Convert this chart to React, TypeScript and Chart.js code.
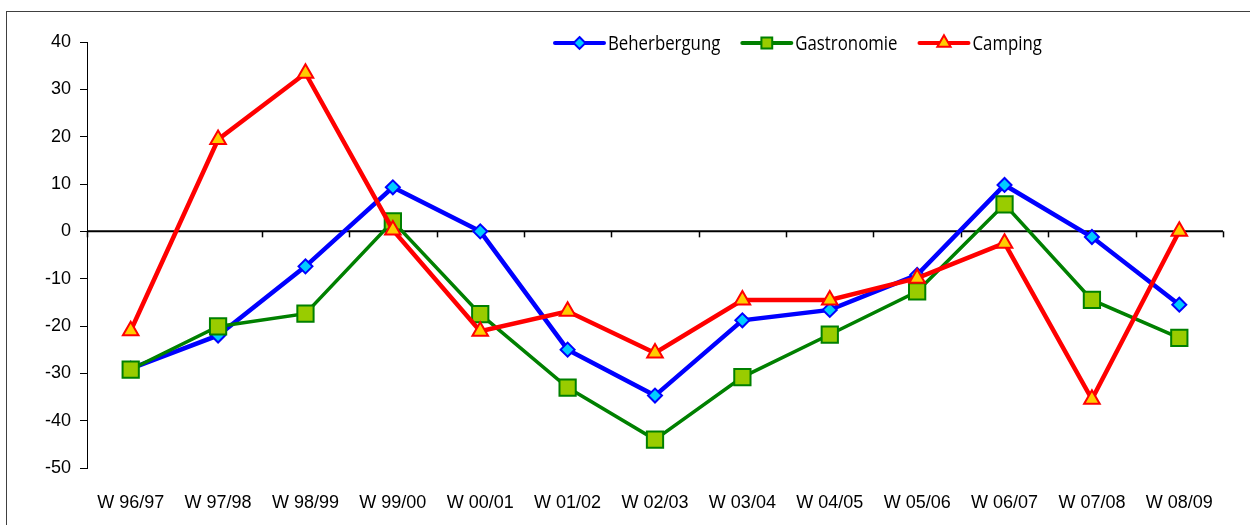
import React, { useEffect, useRef } from "react";
import { Chart, registerables } from "chart.js";

Chart.register(...registerables);

const categories = [
  "W 96/97", "W 97/98", "W 98/99", "W 99/00", "W 00/01", "W 01/02", "W 02/03",
  "W 03/04", "W 04/05", "W 05/06", "W 06/07", "W 07/08", "W 08/09",
];
const beherbergung = [-29, -22, -7.4, 9.3, 0, -25, -34.7, -18.8, -16.6, -9.2, 9.8, -1.2, -15.5];
const gastronomie = [-29.2, -20.1, -17.4, 2.1, -17.5, -33, -44, -30.8, -21.8, -12.7, 5.7, -14.5, -22.5];
const camping = [-21, 19.4, 33.4, 0.3, -21.1, -16.9, -25.7, -14.5, -14.5, -9.9, -2.5, -35.5, 0];
const yMin = -50;
const yMax = 40;
const yStep = 10;

const TICK_FONT = "Liberation Sans, Arial, sans-serif";
const LEGEND_FONT = "Open Sans, Noto Sans, sans-serif";

const zeroLinePlugin = {
  id: "zeroLine",
  beforeDatasetsDraw(chart: any) {
    const { ctx, scales } = chart;
    const x = scales.x;
    const y = scales.y;
    const y0 = y.getPixelForValue(0);
    ctx.save();
    ctx.strokeStyle = "#000";
    ctx.lineWidth = 2;
    ctx.beginPath();
    ctx.moveTo(x.left, y0);
    ctx.lineTo(x.right, y0);
    ctx.stroke();
    ctx.lineWidth = 1.5;
    const n = categories.length;
    for (let i = 0; i <= n; i++) {
      const px = Math.round(x.left + (i * (x.right - x.left)) / n) + 0.5;
      ctx.beginPath();
      ctx.moveTo(px, y0);
      ctx.lineTo(px, y0 + 6);
      ctx.stroke();
    }
    ctx.restore();
  },
};

function drawMarker(ctx: CanvasRenderingContext2D, ds: any, cx: number, cy: number) {
  const r = ds.pointRadius;
  ctx.save();
  ctx.fillStyle = ds.pointBackgroundColor;
  ctx.strokeStyle = ds.pointBorderColor;
  ctx.lineWidth = ds.pointBorderWidth;
  ctx.beginPath();
  if (ds.pointStyle === "rectRot") {
    ctx.moveTo(cx, cy - r);
    ctx.lineTo(cx + r, cy);
    ctx.lineTo(cx, cy + r);
    ctx.lineTo(cx - r, cy);
  } else if (ds.pointStyle === "rect") {
    const s = r * Math.SQRT1_2;
    ctx.rect(cx - s, cy - s, 2 * s, 2 * s);
  } else {
    const w = r * 0.866;
    ctx.moveTo(cx, cy - r);
    ctx.lineTo(cx + w, cy + r / 2);
    ctx.lineTo(cx - w, cy + r / 2);
  }
  ctx.closePath();
  ctx.fill();
  ctx.stroke();
  ctx.restore();
}

const legendPlugin = {
  id: "customLegend",
  afterDraw(chart: any) {
    const { ctx } = chart;
    const datasets = chart.data.datasets;
    let x = 555;
    const cy = 43;
    const sx = 0.84;
    ctx.save();
    ctx.font = `20px ${LEGEND_FONT}`;
    ctx.textBaseline = "middle";
    ctx.fillStyle = "#000";
    for (const ds of datasets) {
      const lineLen = 49;
      ctx.strokeStyle = ds.borderColor;
      ctx.lineWidth = 4;
      ctx.lineCap = "round";
      ctx.beginPath();
      ctx.moveTo(x, cy);
      ctx.lineTo(x + lineLen, cy);
      ctx.stroke();
      const mr = Math.min(ds.pointRadius, 9) * 0.85;
      drawMarker(ctx, { ...ds, pointRadius: mr }, x + lineLen / 2, cy);
      const tx = x + lineLen + 4;
      ctx.save();
      ctx.translate(tx, cy + 1);
      ctx.scale(sx, 1);
      ctx.fillStyle = "#000";
      ctx.fillText(ds.label, 0, 0);
      ctx.restore();
      x = tx + ctx.measureText(ds.label).width * sx + 22;
    }
    ctx.restore();
  },
};

export default function App() {
  const canvasRef = useRef<HTMLCanvasElement | null>(null);

  useEffect(() => {
    const canvas = canvasRef.current;
    if (!canvas) return;
    const chart = new Chart(canvas, {
      type: "line",
      data: {
        labels: categories,
        datasets: [
          {
            label: "Beherbergung",
            data: beherbergung,
            borderColor: "#0000ff",
            borderWidth: 4.5,
            pointStyle: "rectRot",
            pointRadius: 7,
            pointBackgroundColor: "#00ccff",
            pointBorderColor: "#0000ff",
            pointBorderWidth: 2,
            order: 2,
            tension: 0,
          },
          {
            label: "Gastronomie",
            data: gastronomie,
            borderColor: "#008000",
            borderWidth: 3.5,
            pointStyle: "rect",
            pointRadius: 11.5,
            pointBackgroundColor: "#99cc00",
            pointBorderColor: "#008000",
            pointBorderWidth: 2,
            order: 1,
            tension: 0,
          },
          {
            label: "Camping",
            data: camping,
            borderColor: "#ff0000",
            borderWidth: 4.5,
            pointStyle: "triangle",
            pointRadius: 9,
            pointBackgroundColor: "#ffcc00",
            pointBorderColor: "#ff0000",
            pointBorderWidth: 2,
            order: 0,
            tension: 0,
          },
        ] as any,
      },
      options: {
        animation: false,
        responsive: false,
        maintainAspectRatio: false,
        layout: { padding: { top: 42, right: 27, left: 0, bottom: 0 } },
        plugins: {
          legend: { display: false },
          tooltip: { enabled: false },
        },
        scales: {
          x: {
            offset: true,
            grid: { display: false },
            border: { display: false },
            ticks: {
              color: "#000",
              font: { family: TICK_FONT, size: 18 },
              padding: 16,
              maxRotation: 0,
              autoSkip: false,
            },
            afterFit(scale: any) {
              scale.height = 57;
            },
          },
          y: {
            min: yMin,
            max: yMax,
            grid: {
              display: true,
              drawOnChartArea: false,
              drawTicks: true,
              tickLength: 7,
              tickColor: "#000",
              tickWidth: 1,
            },
            border: { display: true, color: "#000", width: 1 },
            ticks: {
              stepSize: yStep,
              color: "#000",
              font: { family: TICK_FONT, size: 18 },
              padding: 9,
            },
            afterFit(scale: any) {
              scale.width = 87;
            },
          },
        },
      } as any,
      plugins: [zeroLinePlugin, legendPlugin],
    });
    return () => chart.destroy();
  }, []);

  return (
    <div style={{ position: "fixed", left: 0, top: 0, width: 1250, height: 525, background: "#fff", overflow: "hidden" }}>
      <div
        style={{
          position: "absolute",
          left: 6,
          top: 11,
          width: 1300,
          height: 600,
          borderLeft: "1.5px solid #404040",
          borderTop: "1.5px solid #404040",
        }}
      />
      <canvas
        ref={canvasRef}
        width={1250}
        height={525}
        style={{ position: "absolute", left: 0, top: 0, width: 1250, height: 525 }}
      />
    </div>
  );
}
